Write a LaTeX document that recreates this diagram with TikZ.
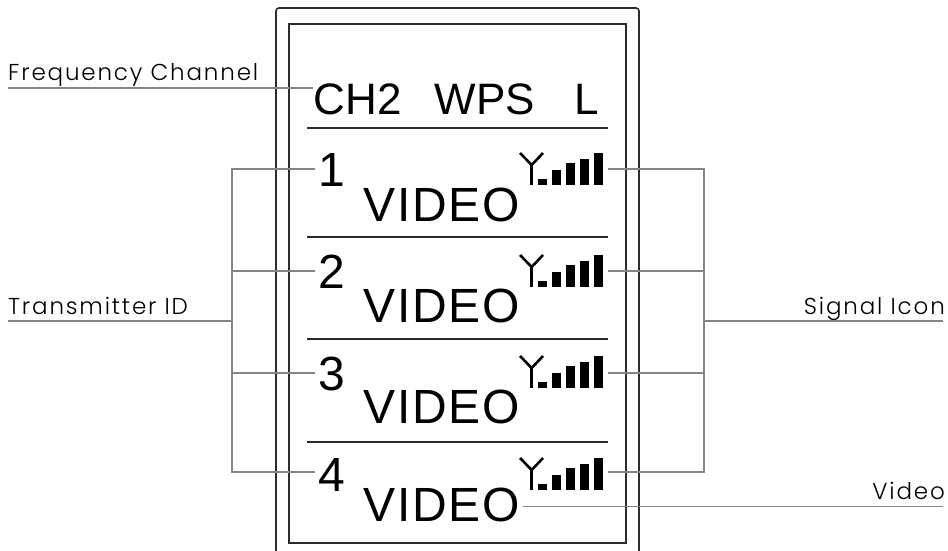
\documentclass[tikz,border=0pt]{standalone}
\usepackage{fontspec}
\setmainfont{Liberation Sans}
\newfontfamily\labelfont[LetterSpace=8]{Poppins Light}
\newfontfamily\videofont[LetterSpace=4]{Liberation Sans}
\definecolor{ink}{HTML}{2B2B2B}
\definecolor{lead}{HTML}{858585}
\tikzset{
  x=1pt,y=-1pt,
  frameline/.style={draw=ink,line width=1.6pt},
  rule/.style={draw=ink,line width=2pt},
  leader/.style={draw=lead,line width=1.3pt},
  caption/.style={font=\labelfont\fontsize{23}{25}\selectfont,text=black,inner sep=0pt},
  lcd/.style={font=\fontsize{44}{46}\selectfont,text=black,inner sep=0pt},
  vlabel/.style={font=\videofont\fontsize{48}{50}\selectfont,text=black,inner sep=0pt},
  idnum/.style={font=\fontsize{48}{50}\selectfont,text=black,inner sep=0pt},
  bar/.style={fill=black,draw=none},
  antenna/.style={draw=black,line width=2.6pt},
  pics/signal/.style={code={
    \draw[antenna] (520,153) -- (531.7,165) -- (543,153);
    \draw[antenna] (531.7,165) -- (531.7,185);
    \fill[bar] (538,179) rectangle (547,185);
    \fill[bar] (552,170) rectangle (561,185);
    \fill[bar] (566,163) rectangle (575,185);
    \fill[bar] (580,159) rectangle (589,185);
    \fill[bar] (594,153) rectangle (603,185);
  }}
}
\begin{document}
\begin{tikzpicture}
\useasboundingbox (0,0) rectangle (948,551);
% casing
\draw[frameline,rounded corners=3pt] (276,552) -- (276,8) -- (639,8) -- (639,552);
\draw[frameline] (289,24) rectangle (626,543);
% separators
\foreach \yy in {127.5,237,339,442} \draw[rule] (307,\yy) -- (608,\yy);
% header
\node[lcd,anchor=base] (ch) at (358,114) {CH2};
\node[lcd,anchor=base] (wps) at (485,114) {WPS};
\node[lcd,anchor=base] (ll) at (587,114) {L};
% rows
\node[idnum,anchor=base] (id1) at (332,186.5) {1};
\node[idnum,anchor=base] (id2) at (332,288.5) {2};
\node[idnum,anchor=base] (id3) at (332,390) {3};
\node[idnum,anchor=base] (id4) at (332,491) {4};
\node[vlabel,anchor=base west] (v1) at (363,221.5) {VIDEO};
\node[vlabel,anchor=base west] (v2) at (363,322.5) {VIDEO};
\node[vlabel,anchor=base west] (v3) at (363,423.5) {VIDEO};
\node[vlabel,anchor=base west] (v4) at (363,521.5) {VIDEO};
\pic at (0,0) {signal};
\pic at (0,102) {signal};
\pic at (0,203) {signal};
\pic at (0,305) {signal};
% captions
\node[caption,anchor=base west] (fc) at (8,80.7) {Frequency Channel};
\node[caption,anchor=base west] (tx) at (8,314) {Transmitter ID};
\node[caption,anchor=base east] (si) at (945,314) {Signal Icon};
\node[caption,anchor=base east] (vd) at (945,499) {Video};
% leaders
\coordinate (fcL) at (8,88); \coordinate (fcR) at (313,88);
\draw[leader] (fcL) -- (fcR);
\coordinate (txL) at (8,321); \coordinate (txJ) at (232,321);
\draw[leader] (txL) -- (txJ);
\draw[leader] (315,169) -| (232,472) -- (315,472);
\draw[leader] (232,271) -- (315,271);
\draw[leader] (232,373) -- (315,373);
\coordinate (siR) at (943,321); \coordinate (siJ) at (704,321);
\draw[leader] (siR) -- (siJ);
\draw[leader] (608,169) -| (704,472) -- (608,472);
\draw[leader] (704,271) -- (608,271);
\draw[leader] (704,373) -- (608,373);
\coordinate (vdR) at (943,506.5); \coordinate (vdL) at (523,506.5);
\draw[leader] (vdL) -- (vdR);
\end{tikzpicture}
\end{document}
